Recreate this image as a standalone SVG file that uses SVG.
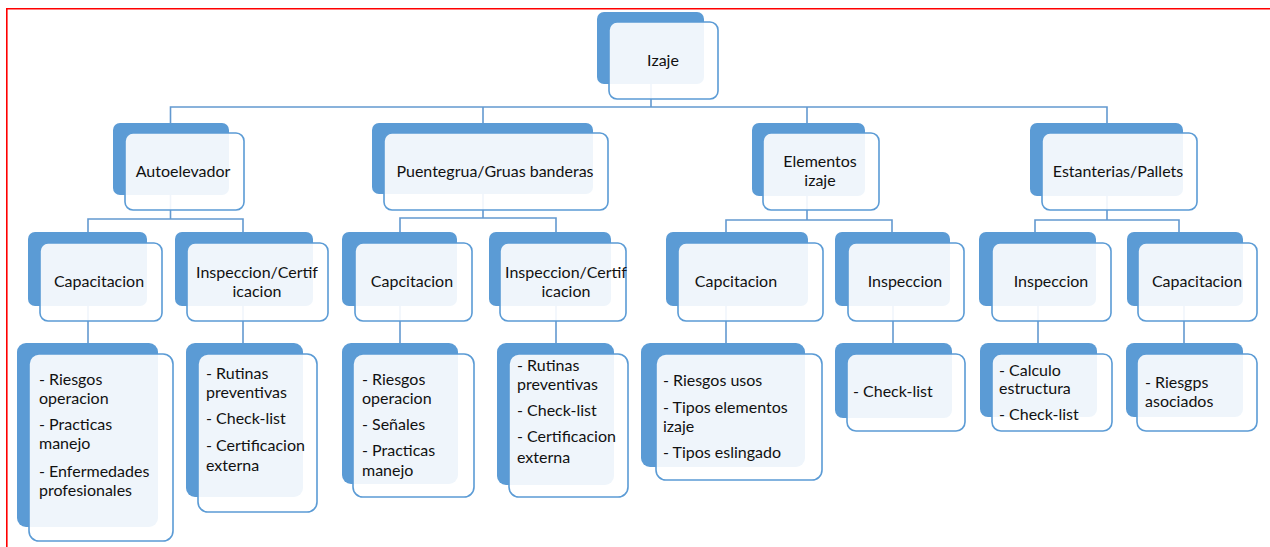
<svg xmlns="http://www.w3.org/2000/svg" width="1270" height="547" viewBox="0 0 1270 547">
  <style>
    .back { fill: #5b9bd5; }
    .front { fill: #ffffff; fill-opacity: 0.9; stroke: #5b9bd5; stroke-width: 1.6; }
    .lbl { font-family: Lato, "Open Sans", "Liberation Sans", sans-serif; font-size: 16px; fill: #111111; }
    .mid { text-anchor: middle; }
    .conn { fill: none; stroke: #6399d0; stroke-width: 1.6; }
    .frame { stroke: #ff0000; stroke-width: 1.6; fill: none; }
  </style>

  <rect x="0" y="0" width="1270" height="547" fill="#ffffff"/>
  <!-- page frame -->
  <path class="frame" d="M6.8 547 V8.8 H1270"/>

  <!-- connectors -->
  <g id="connectors" class="conn">
    <path d="M651 84 V107"/>
    <path d="M170.5 123 V107 H1107 V123"/>
    <path d="M483 107 V123"/>
    <path d="M807 107 V123"/>
    <!-- Autoelevador -->
    <path d="M170.5 195 V219"/>
    <path d="M88 232 V219 H243 V232"/>
    <!-- Puentegrua -->
    <path d="M483 194 V218"/>
    <path d="M400 232 V218 H556 V232"/>
    <!-- Elementos izaje -->
    <path d="M807 196 V220"/>
    <path d="M726 232 V220 H892 V232"/>
    <!-- Estanterias -->
    <path d="M1107 196 V220"/>
    <path d="M1035 232 V220 H1179 V232"/>
    <!-- third to fourth level -->
    <path d="M88 306 V343"/>
    <path d="M243 306 V343"/>
    <path d="M400 306 V343"/>
    <path d="M556 306 V343"/>
    <path d="M726 306 V343"/>
    <path d="M893 306 V343"/>
    <path d="M1038 306 V343"/>
    <path d="M1184 306 V343"/>
  </g>

  <!-- root -->
  <g id="izaje">
    <rect class="back" x="597" y="12" width="107" height="72" rx="7"/>
    <rect class="front" x="609" y="22" width="109" height="77" rx="8"/>
    <text class="lbl mid" x="663" y="66">Izaje</text>
  </g>

  <!-- second level -->
  <g id="autoelevador">
    <rect class="back" x="113" y="123" width="116" height="72" rx="7"/>
    <rect class="front" x="125" y="133" width="119" height="77" rx="8"/>
    <text class="lbl mid" x="183" y="176.5">Autoelevador</text>
  </g>
  <g id="puentegrua">
    <rect class="back" x="372" y="123" width="221" height="71" rx="7"/>
    <rect class="front" x="384" y="133" width="224" height="77" rx="8"/>
    <text class="lbl mid" x="495" y="176.5">Puentegrua/Gruas banderas</text>
  </g>
  <g id="elementos-izaje">
    <rect class="back" x="752" y="123" width="113" height="73" rx="7"/>
    <rect class="front" x="763" y="133" width="116" height="77" rx="8"/>
    <text class="lbl mid" x="820" y="166.5">Elementos</text>
    <text class="lbl mid" x="820" y="185.5">izaje</text>
  </g>
  <g id="estanterias">
    <rect class="back" x="1030" y="123" width="153" height="73" rx="7"/>
    <rect class="front" x="1042" y="133" width="155" height="77" rx="8"/>
    <text class="lbl mid" x="1118" y="176.5">Estanterias/Pallets</text>
  </g>

  <!-- third level -->
  <g id="auto-capacitacion">
    <rect class="back" x="28" y="232" width="119" height="74" rx="7"/>
    <rect class="front" x="40" y="243" width="122" height="78" rx="8"/>
    <text class="lbl mid" x="99" y="286.5">Capacitacion</text>
  </g>
  <g id="auto-inspeccion">
    <rect class="back" x="175" y="232" width="138" height="74" rx="7"/>
    <rect class="front" x="187" y="243" width="141" height="78" rx="8"/>
    <text class="lbl mid" x="257" y="278">Inspeccion/Certif</text>
    <text class="lbl mid" x="257" y="297">icacion</text>
  </g>
  <g id="puente-capacitacion">
    <rect class="back" x="342" y="232" width="115" height="74" rx="7"/>
    <rect class="front" x="355" y="243" width="117" height="78" rx="8"/>
    <text class="lbl mid" x="412" y="286.5">Capcitacion</text>
  </g>
  <g id="puente-inspeccion">
    <rect class="back" x="489" y="232" width="122" height="74" rx="7"/>
    <rect class="front" x="500" y="243" width="126" height="78" rx="8"/>
    <text class="lbl mid" x="566" y="278">Inspeccion/Certif</text>
    <text class="lbl mid" x="566" y="297">icacion</text>
  </g>
  <g id="elementos-capacitacion">
    <rect class="back" x="666" y="232" width="142" height="74" rx="7"/>
    <rect class="front" x="678" y="243" width="145" height="78" rx="8"/>
    <text class="lbl mid" x="736" y="286.5">Capcitacion</text>
  </g>
  <g id="elementos-inspeccion">
    <rect class="back" x="835" y="232" width="115" height="74" rx="7"/>
    <rect class="front" x="848" y="243" width="116" height="78" rx="8"/>
    <text class="lbl mid" x="905" y="286.5">Inspeccion</text>
  </g>
  <g id="estanterias-inspeccion">
    <rect class="back" x="979" y="232" width="117" height="74" rx="7"/>
    <rect class="front" x="992" y="243" width="119" height="78" rx="8"/>
    <text class="lbl mid" x="1051" y="286.5">Inspeccion</text>
  </g>
  <g id="estanterias-capacitacion">
    <rect class="back" x="1127" y="232" width="116" height="74" rx="7"/>
    <rect class="front" x="1138" y="243" width="119" height="78" rx="8"/>
    <text class="lbl mid" x="1197" y="286.5">Capacitacion</text>
  </g>

  <!-- fourth level: detail lists -->
  <g id="auto-capacitacion-items">
    <rect class="back" x="17" y="343" width="141" height="184" rx="9"/>
    <rect class="front" x="29" y="354" width="144" height="187" rx="10"/>
    <text class="lbl" x="39" y="385">- Riesgos</text>
    <text class="lbl" x="39" y="404">operacion</text>
    <text class="lbl" x="39" y="429.5">- Practicas</text>
    <text class="lbl" x="39" y="449">manejo</text>
    <text class="lbl" x="39" y="476.5">- Enfermedades</text>
    <text class="lbl" x="39" y="495.5">profesionales</text>
  </g>
  <g id="auto-inspeccion-items">
    <rect class="back" x="186" y="343" width="117" height="154" rx="9"/>
    <rect class="front" x="198" y="354" width="119" height="158" rx="10"/>
    <text class="lbl" x="206" y="379">- Rutinas</text>
    <text class="lbl" x="206" y="398">preventivas</text>
    <text class="lbl" x="206" y="424">- Check-list</text>
    <text class="lbl" x="206" y="450.5">- Certificacion</text>
    <text class="lbl" x="206" y="470.5">externa</text>
  </g>
  <g id="puente-capacitacion-items">
    <rect class="back" x="342" y="343" width="116" height="141" rx="9"/>
    <rect class="front" x="353" y="354" width="121" height="143" rx="10"/>
    <text class="lbl" x="362" y="385">- Riesgos</text>
    <text class="lbl" x="362" y="404">operacion</text>
    <text class="lbl" x="362" y="429.5">- Señales</text>
    <text class="lbl" x="362" y="455.5">- Practicas</text>
    <text class="lbl" x="362" y="475.5">manejo</text>
  </g>
  <g id="puente-inspeccion-items">
    <rect class="back" x="497" y="343" width="117" height="142" rx="9"/>
    <rect class="front" x="509" y="354" width="119" height="143" rx="10"/>
    <text class="lbl" x="517" y="370.5">- Rutinas</text>
    <text class="lbl" x="517" y="389.5">preventivas</text>
    <text class="lbl" x="517" y="415.5">- Check-list</text>
    <text class="lbl" x="517" y="442">- Certificacion</text>
    <text class="lbl" x="517" y="462.5">externa</text>
  </g>
  <g id="elementos-capacitacion-items">
    <rect class="back" x="641" y="343" width="164" height="124" rx="9"/>
    <rect class="front" x="656" y="354" width="166" height="126" rx="10"/>
    <text class="lbl" x="663" y="386">- Riesgos usos</text>
    <text class="lbl" x="663" y="412.5">- Tipos elementos</text>
    <text class="lbl" x="663" y="432">izaje</text>
    <text class="lbl" x="663" y="458">- Tipos eslingado</text>
  </g>
  <g id="elementos-inspeccion-items">
    <rect class="back" x="835" y="343" width="117" height="75" rx="8"/>
    <rect class="front" x="847" y="354" width="118" height="77" rx="9"/>
    <text class="lbl" x="853" y="397">- Check-list</text>
  </g>
  <g id="estanterias-inspeccion-items">
    <rect class="back" x="980" y="343" width="117" height="74" rx="8"/>
    <rect class="front" x="992" y="354" width="120" height="77" rx="9"/>
    <text class="lbl" x="999" y="375.5">- Calculo</text>
    <text class="lbl" x="999" y="393.5">estructura</text>
    <text class="lbl" x="999" y="419.5">- Check-list</text>
  </g>
  <g id="estanterias-capacitacion-items">
    <rect class="back" x="1126" y="343" width="117" height="74" rx="8"/>
    <rect class="front" x="1137" y="354" width="120" height="77" rx="9"/>
    <text class="lbl" x="1145" y="388">- Riesgps</text>
    <text class="lbl" x="1145" y="407">asociados</text>
  </g>
</svg>
